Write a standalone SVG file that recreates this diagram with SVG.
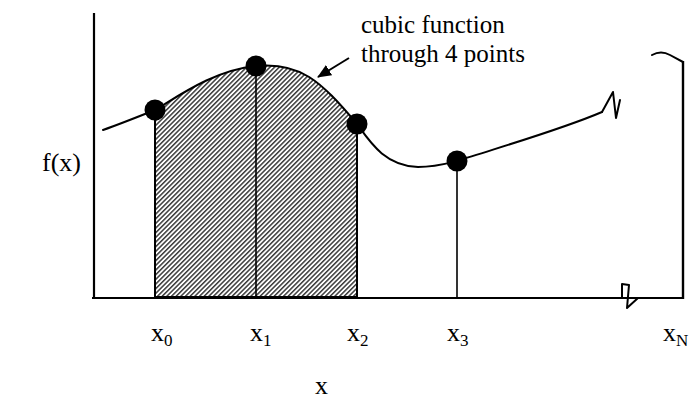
<svg xmlns="http://www.w3.org/2000/svg" width="691" height="402" viewBox="0 0 691 402">
<style>
.t{font-family:"Liberation Serif","Times New Roman",serif;fill:#000}
.lbl{font-size:26px}
.ann{font-size:25px}
.sub{font-size:17px}
.ln{fill:none;stroke:#000;stroke-width:2;stroke-linejoin:round;stroke-linecap:round}
.thin{fill:none;stroke:#000;stroke-width:1.6}
.dot{fill:#000}
</style>
<defs>
<pattern id="hatch" patternUnits="userSpaceOnUse" width="3.3" height="10" patternTransform="rotate(45)">
<rect x="0" y="0" width="3.3" height="10" fill="#fff"/>
<rect x="0" y="0" width="1.5" height="10" fill="#3a3a3a"/>
</pattern>
<marker id="ah" markerWidth="14" markerHeight="12" refX="13" refY="6" orient="auto" markerUnits="userSpaceOnUse">
<path d="M0,0 L14,6 L0,12 Z" fill="#000"/>
</marker>
</defs>
<g id="area">
<path d="M155,297 L155,110 C180,95 215,70 256,66 C300,62 320,80 357,124 L357,297 Z" fill="url(#hatch)"/>
</g>
<g id="axes">
<line x1="94" y1="13" x2="94" y2="298" stroke="#000" stroke-width="2.2"/>
<line x1="92" y1="298" x2="684" y2="298" stroke="#000" stroke-width="2.2"/>
<line x1="683" y1="61" x2="683" y2="299" stroke="#000" stroke-width="2.4"/>
<path class="ln" d="M652,55 Q661,50 670,55 L683,62"/>
<path class="ln" d="M622,298 L622,284 L629,285 L627,308 L638,298"/>
</g>
<g id="connectors">
<path class="ln" d="M103,130 C120,124 140,116 155,110 C180,95 215,70 256,66 C300,62 320,80 357,124 C370,142 385,166 418,167 C435,167 445,164 457,161 C500,147 560,130 602,112"/>
<path class="ln" d="M602,112 L613,92 L616,118 L620,100"/>
<path class="ln" d="M155,110 L155,297 L357,297 L357,124"/>
<path class="thin" d="M256,66 L256,297"/>
<path class="thin" d="M457,161 L457,298"/>
<path d="M349,58 L318,77" fill="none" stroke="#000" stroke-width="2" marker-end="url(#ah)"/>
</g>
<g id="p0"><circle class="dot" cx="155" cy="110" r="10.5"/></g>
<g id="p1"><circle class="dot" cx="256" cy="66" r="10.5"/></g>
<g id="p2"><circle class="dot" cx="357" cy="124" r="10.5"/></g>
<g id="p3"><circle class="dot" cx="457" cy="161" r="10.5"/></g>
<g id="labels">
<text class="t ann" x="361" y="33">cubic function</text>
<text class="t ann" x="361" y="62">through 4 points</text>
<text class="t lbl" x="42" y="171">f(x)</text>
<text class="t lbl" x="151" y="341">x<tspan class="sub" dy="5">0</tspan></text>
<text class="t lbl" x="250" y="341">x<tspan class="sub" dy="5">1</tspan></text>
<text class="t lbl" x="347" y="341">x<tspan class="sub" dy="5">2</tspan></text>
<text class="t lbl" x="447" y="341">x<tspan class="sub" dy="5">3</tspan></text>
<text class="t lbl" x="663" y="341">x<tspan class="sub" dy="5">N</tspan></text>
<text class="t lbl" x="315" y="394">x</text>
</g>
</svg>
